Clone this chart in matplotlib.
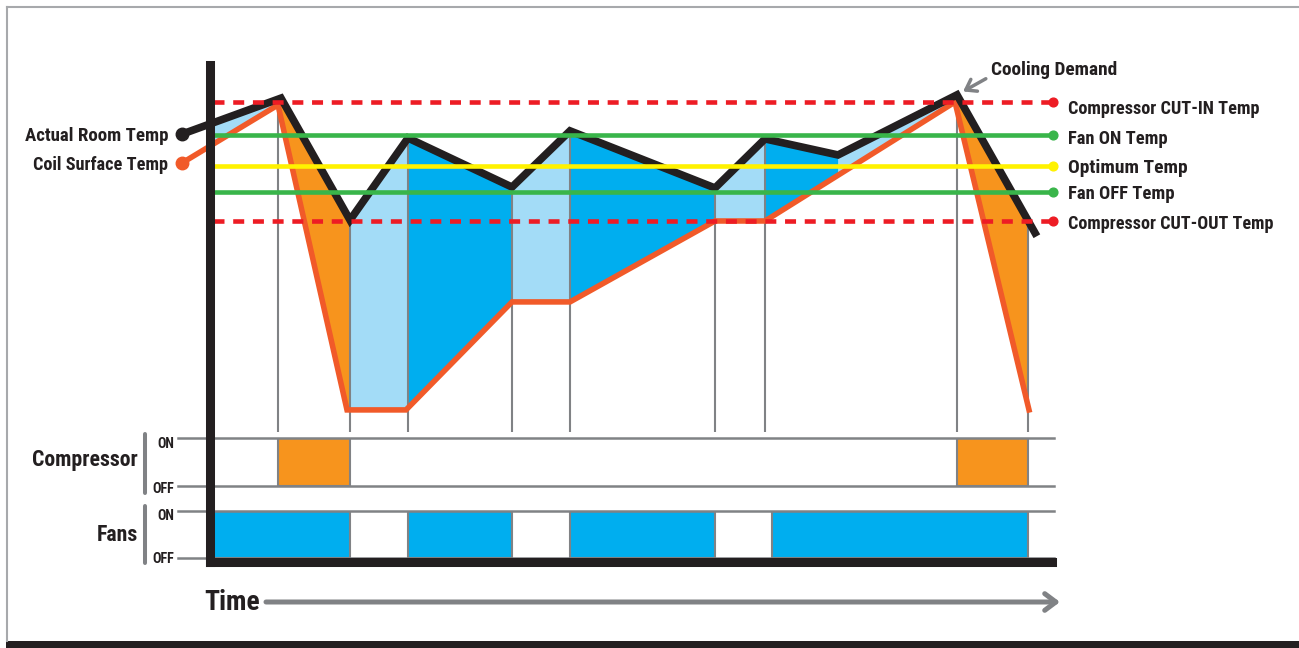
import os

import matplotlib.pyplot as plt
import numpy as np
from matplotlib import font_manager
from matplotlib.font_manager import FontProperties
from matplotlib.patches import Rectangle
from matplotlib.text import Text

W, H = 1299, 648

# time in minutes, temperature in degrees
room_t = [-2.8, 7.1, 14.0, 19.8, 30.2, 36.0, 50.5, 55.5, 62.8, 74.7, 82.5]
room_temp = [24.92, 26.13, 22.03, 24.79, 23.14, 25.03, 23.11, 24.76, 24.22, 26.24, 21.60]
coil_t = [-2.8, 6.8, 13.7, 19.6, 30.2, 36.0, 50.5, 55.5, 74.5, 81.9]
coil_temp = [23.95, 25.90, 15.65, 15.65, 19.28, 19.28, 22.0, 22.0, 26.0, 15.65]

threshold_names = ["Compressor CUT-IN Temp", "Fan ON Temp", "Optimum Temp",
                   "Fan OFF Temp", "Compressor CUT-OUT Temp"]
threshold_temp = [26.0, 24.89, 23.85, 22.97, 22.0]
threshold_colors = ["#ed1c24", "#39b54a", "#fff200", "#39b54a", "#ed1c24"]
threshold_dashed = [True, False, False, False, True]

event_t = [6.8, 14.0, 19.8, 30.2, 36.0, 50.5, 55.5, 74.7, 81.8]
compressor_on = [(6.8, 14.0), (74.7, 81.8)]
fans_on = [(0.0, 14.0), (19.8, 30.2), (36.0, 50.5), (56.2, 81.8)]

# shading between room and coil curves
shade_edges = [0.0, 7.0, 14.0, 19.8, 30.2, 36.0, 50.5, 55.5, 62.8, 74.7, 81.8]
shade_kind = ["light", "comp", "light", "fan", "light", "fan", "light", "fan", "light", "comp"]
shade_colors = {"light": "#a3dcf7", "fan": "#00aeef", "comp": "#f7941d"}

BLACK = "#231f20"
GRAY = "#808285"
ORANGE_LINE = "#f15a29"


def pick_font():
    # narrow bold face if one is installed, else Roboto Bold (narrower than DejaVu)
    prefs = ["Liberation Sans Narrow", "Noto Sans", "Open Sans", "Roboto"]
    best = None
    for f in font_manager.fontManager.ttflist:
        fn = os.path.basename(f.fname).lower()
        cond = ("condensed" in fn or "narrow" in fn) and not any(
            k in fn for k in ("extra", "semi", "ultra", "italic", "mono", "display"))
        if cond and "bold" in fn:
            rank = next((i for i, p in enumerate(prefs) if f.name.startswith(p)), None)
            if rank is not None and (best is None or rank < best[0]):
                best = (rank, f.fname)
    if best:
        return FontProperties(fname=best[1])
    return FontProperties(family=["Roboto", "DejaVu Sans"], weight="bold")


FP = pick_font()
fitted = []  # (text, target width in px)


def label(axis, x, y, s, width, size, **kw):
    t = axis.text(x, y, s, fontproperties=FP, fontsize=size, color=BLACK, **kw)
    fitted.append((t, width))
    return t


def t_of(x):
    return (x - 210) / 10.0


def T_of(y):
    return 26 - (y - 102) / 29.75


def fig_rect(left, top, right, bottom):
    return [left / W, 1 - bottom / H, (right - left) / W, (bottom - top) / H]


fig = plt.figure(figsize=(W / 100, H / 100), dpi=100)

# background / decoration layer in pixel coordinates
deco = fig.add_axes([0, 0, 1, 1], zorder=0)
deco.set_xlim(0, W)
deco.set_ylim(H, 0)
deco.axis("off")
deco.plot([7, W], [7, 7], color="#a7a9ac", lw=1.5)
deco.plot([7, 7], [7, 641], color="#a7a9ac", lw=1.5)
deco.add_patch(Rectangle((6, 641), W, 8, color=BLACK, lw=0))
label(deco, 138, 466, "Compressor", 106, 15.5, ha="right", va="baseline")
label(deco, 138, 541, "Fans", 41, 15.5, ha="right", va="baseline")
deco.plot([145.5, 145.5], [434, 493], color=GRAY, lw=2.9, solid_capstyle="round")
deco.plot([145.5, 145.5], [506, 563], color=GRAY, lw=2.9, solid_capstyle="round")
for lbl, yb in [("ON", 448), ("OFF", 493), ("ON", 520), ("OFF", 563)]:
    label(deco, 174, yb, lbl, 17 if lbl == "ON" else 22, 10.5, ha="right", va="baseline")
label(deco, 204, 610, "Time", 56, 21, ha="left", va="baseline")
deco.annotate("", xy=(1060, 602), xytext=(266, 602),
              arrowprops=dict(arrowstyle="->,head_length=0.8,head_width=0.6",
                              lw=3.6, color=GRAY, shrinkA=0, shrinkB=0))

x_right = 1051.5
xlim = (0, t_of(x_right))

# compressor panel
ax_c = fig.add_axes(fig_rect(210, 438, x_right, 486), zorder=1)
ax_c.set_xlim(*xlim)
ax_c.set_ylim(0, 1)
ax_c.axis("off")
for lvl in (0, 1):
    ax_c.plot([t_of(178), t_of(1054)], [lvl, lvl], color=GRAY, lw=1.8, clip_on=False)
for a, b in compressor_on:
    ax_c.add_patch(Rectangle((a, 0), b - a, 1, fc="#f7941d", ec=GRAY, lw=1.5))

# fans panel
ax_f = fig.add_axes(fig_rect(210, 511, x_right, 558), zorder=1)
ax_f.set_xlim(*xlim)
ax_f.set_ylim(0, 1)
ax_f.axis("off")
for lvl in (0, 1):
    ax_f.plot([t_of(178), t_of(1054)], [lvl, lvl], color=GRAY, lw=1.8, clip_on=False)
for a, b in fans_on:
    ax_f.add_patch(Rectangle((a, 0), b - a, 1, fc="#00aeef", ec=GRAY, lw=1.5))

# main temperature chart
ax = fig.add_axes(fig_rect(210, 65.5, x_right, 562), zorder=3)
ax.patch.set_visible(False)
ax.set_xlim(*xlim)
ax.set_ylim(T_of(562), T_of(65.5))
ax.set_xticks([])
ax.set_yticks([])
for side in ("top", "right"):
    ax.spines[side].set_visible(False)
for side in ("left", "bottom"):
    ax.spines[side].set_linewidth(6.5)
    ax.spines[side].set_color(BLACK)
    ax.spines[side].set_zorder(10)

for a, b, kind in zip(shade_edges[:-1], shade_edges[1:], shade_kind):
    ts = sorted({a, b, *[t for t in room_t + coil_t if a < t < b]})
    ax.fill_between(ts, np.interp(ts, room_t, room_temp), np.interp(ts, coil_t, coil_temp),
                    color=shade_colors[kind], lw=0, zorder=1)

ax.vlines(event_t, T_of(432), np.interp(event_t, room_t, room_temp),
          color=GRAY, lw=1.5, zorder=2)

ax.plot(coil_t, coil_temp, color=ORANGE_LINE, lw=4, solid_joinstyle="miter",
        clip_on=False, zorder=3)
ax.plot(room_t, room_temp, color=BLACK, lw=5.5, solid_joinstyle="miter",
        clip_on=False, zorder=4)
ax.plot(coil_t[0], coil_temp[0], "o", color=ORANGE_LINE, ms=9, clip_on=False, zorder=4)
ax.plot(room_t[0], room_temp[0], "o", color=BLACK, ms=9, clip_on=False, zorder=4)
for s, x0, y0, w in [("Actual Room Temp", room_t[0], room_temp[0], 144),
                     ("Coil Surface Temp", coil_t[0], coil_temp[0], 136)]:
    a = ax.annotate(s, xy=(x0, y0), xytext=(-10, -5), textcoords="offset points",
                    ha="right", va="baseline", fontproperties=FP, fontsize=14,
                    color=BLACK, annotation_clip=False)
    fitted.append((a, w))

label_dy = [5, 2, 0, 0, 1]
label_w = [192, 100, 120, 107, 207]
for name, temp, col, dashed, dy, w in zip(threshold_names, threshold_temp, threshold_colors,
                                          threshold_dashed, label_dy, label_w):
    ls = (0, (2.4, 1.9)) if dashed else "-"
    ax.plot([t_of(213), t_of(1053)], [temp, temp], color=col, lw=3.3, ls=ls,
            clip_on=False, zorder=5)
    ax.plot(t_of(1053), temp, "o", color=col, ms=6.3, clip_on=False, zorder=5)
    a = ax.annotate(name, xy=(t_of(1068), temp), xytext=(0, -5 - dy * 0.72),
                    textcoords="offset points", ha="left", va="baseline",
                    fontproperties=FP, fontsize=14, color=BLACK, annotation_clip=False)
    fitted.append((a, w))

peak = int(np.argmax(room_temp))
a = ax.annotate("Cooling Demand", xy=(room_t[peak], room_temp[peak]), xytext=(24.5, 14),
                textcoords="offset points", ha="left", va="baseline",
                fontproperties=FP, fontsize=14, color=BLACK, annotation_clip=False,
                arrowprops=dict(arrowstyle="->,head_length=0.5,head_width=0.35", lw=2.5,
                                color=GRAY, relpos=(0, 0.2), shrinkA=2, shrinkB=5))
fitted.append((a, 127))

# scale the font sizes so each text spans the width it has in the reference
fig.canvas.draw()
renderer = fig.canvas.get_renderer()
for t, w in fitted:
    bb = Text.get_window_extent(t, renderer)
    if bb.width > 0:
        t.set_fontsize(t.get_fontsize() * w / bb.width)

fig.savefig("out.png", dpi=100, facecolor="white")
